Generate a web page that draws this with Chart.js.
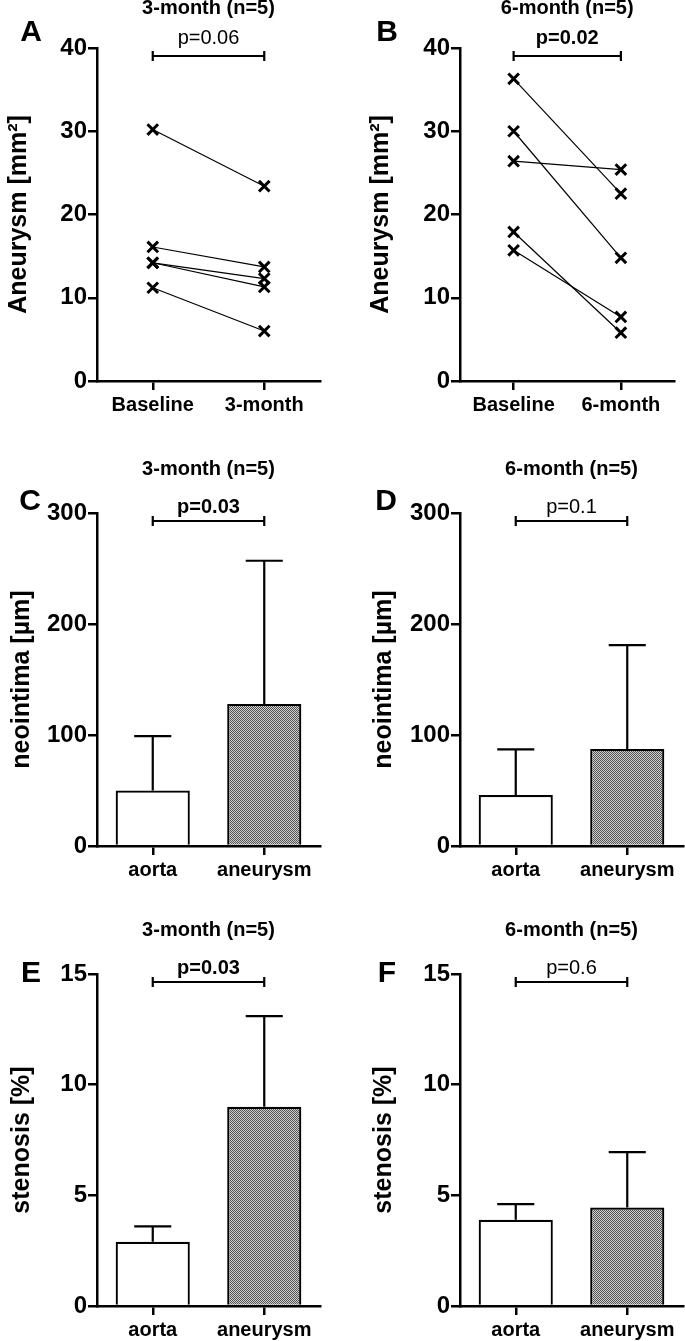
<!DOCTYPE html>
<html>
<head>
<meta charset="utf-8">
<script src="https://cdn.jsdelivr.net/npm/chart.js@4"></script>
<style>
  html, body { margin: 0; padding: 0; background: #fff; }
  body { width: 685px; height: 1341px; position: relative; overflow: hidden; }
  canvas { position: absolute; }
</style>
</head>
<body>
<canvas id="cA" width="342" height="420" style="left:0;top:0"></canvas>
<canvas id="cB" width="343" height="420" style="left:342px;top:0"></canvas>
<canvas id="cC" width="342" height="440" style="left:0;top:440px"></canvas>
<canvas id="cD" width="343" height="440" style="left:342px;top:440px"></canvas>
<canvas id="cE" width="342" height="451" style="left:0;top:890px"></canvas>
<canvas id="cF" width="343" height="451" style="left:342px;top:890px"></canvas>
<script>
// ---------------- DATA ----------------
const categoriesA = ['Baseline', '3-month'];
const categoriesB = ['Baseline', '6-month'];
const aneurysmBaselineA = [30.2, 16.1, 14.2, 14.2, 11.2];
const aneurysm3Month    = [23.4, 13.7, 12.3, 11.3, 6.0];
const aneurysmBaselineB = [36.3, 30.0, 26.4, 17.9, 15.7];
const aneurysm6Month    = [22.5, 14.8, 25.4, 5.8, 7.7];

const barCategories = ['aorta', 'aneurysm'];
const neointima3Mean = [50, 128];
const neointima3SD   = [49, 129];
const neointima6Mean = [46, 87.5];
const neointima6SD   = [41, 93.5];
const stenosis3Mean  = [2.9, 9.0];
const stenosis3SD    = [0.7, 4.1];
const stenosis6Mean  = [3.9, 4.45];
const stenosis6SD    = [0.7, 2.5];

const ticksAneurysm  = [0, 10, 20, 30, 40];
const ticksNeointima = [0, 100, 200, 300];
const ticksStenosis  = [0, 5, 10, 15];

const titles = ['3-month (n=5)', '6-month (n=5)'];
const pValues = ['p=0.06', 'p=0.02', 'p=0.03', 'p=0.1', 'p=0.03', 'p=0.6'];
const pBold   = [false, true, true, false, true, false];
const panelLetters = ['A', 'B', 'C', 'D', 'E', 'F'];

// ---------------- STYLE ----------------
const FONT = '"Liberation Sans", Arial, Helvetica, sans-serif';
Chart.defaults.color = '#000';
Chart.defaults.font.family = FONT;

function makePattern() {
  const c = document.createElement('canvas');
  c.width = 2; c.height = 2;
  const x = c.getContext('2d');
  x.fillStyle = '#d0d0d0'; x.fillRect(0, 0, 2, 2);
  x.fillStyle = '#525252'; x.fillRect(0, 0, 1, 1); x.fillRect(1, 1, 1, 1);
  return x.createPattern(c, 'repeat');
}
const greyPattern = makePattern();

const overlay = {
  id: 'overlay',
  afterDraw(chart, args, o) {
    const { ctx, chartArea, scales } = chart;
    ctx.save();
    ctx.fillStyle = '#000';
    ctx.strokeStyle = '#000';
    ctx.textAlign = 'center';
    ctx.textBaseline = 'middle';
    // title
    ctx.font = 'bold 20px ' + FONT;
    ctx.fillText(o.title, (chartArea.left + chartArea.right) / 2, o.titleY);
    // panel letter
    ctx.font = 'bold 30px ' + FONT;
    ctx.fillText(o.letter, o.letterX, o.letterY);
    // bracket
    const x1 = scales.x.getPixelForValue(0);
    const x2 = scales.x.getPixelForValue(1);
    const y = chartArea.top + 8;
    ctx.lineWidth = 2.2;
    ctx.beginPath();
    ctx.moveTo(x1, y); ctx.lineTo(x2, y);
    ctx.moveTo(x1, y - 5); ctx.lineTo(x1, y + 5);
    ctx.moveTo(x2, y - 5); ctx.lineTo(x2, y + 5);
    ctx.stroke();
    ctx.font = (o.pBold ? 'bold ' : '') + '20px ' + FONT;
    ctx.fillText(o.p, (x1 + x2) / 2, y - o.pDy);
    ctx.restore();
  },
  afterDatasetsDraw(chart, args, o) {
    if (!o.sd) return;
    const { ctx, scales } = chart;
    const meta = chart.getDatasetMeta(0);
    const means = chart.data.datasets[0].data;
    ctx.save();
    ctx.strokeStyle = '#000';
    ctx.lineWidth = 2.2;
    meta.data.forEach((bar, i) => {
      const top = scales.y.getPixelForValue(means[i] + o.sd[i]);
      const half = bar.width / 4;
      ctx.beginPath();
      ctx.moveTo(bar.x, bar.y); ctx.lineTo(bar.x, top);
      ctx.moveTo(bar.x - half, top); ctx.lineTo(bar.x + half, top);
      ctx.stroke();
    });
    ctx.restore();
  }
};

function axes(ticks, title, yWidth, xHeight, titlePad) {
  return {
    x: {
      type: 'category',
      offset: true,
      afterFit: s => { s.height = xHeight; },
      grid: { display: true, drawOnChartArea: false, drawTicks: true, tickLength: 9,
              color: '#000', lineWidth: 2.5, offset: false },
      border: { display: true, color: '#000', width: 2.5 },
      ticks: { font: { size: 20, weight: 'bold' }, padding: 3, maxRotation: 0, autoSkip: false }
    },
    y: {
      min: ticks[0], max: ticks[ticks.length - 1],
      afterFit: s => { s.width = yWidth; },
      afterBuildTicks: s => { s.ticks = ticks.map(v => ({ value: v })); },
      grid: { display: true, drawOnChartArea: false, drawTicks: true, tickLength: 9,
              color: '#000', lineWidth: 2.5 },
      border: { display: true, color: '#000', width: 2.5 },
      ticks: { font: { size: 24, weight: 'bold' }, padding: 1 },
      title: { display: true, text: title, font: { size: 25, weight: 'bold' },
               padding: { top: titlePad, bottom: 0 } }
    }
  };
}

function lineChart(id, cats, base, follow, i, layoutLeft, yWidth, rightPad, titlePad, letterX) {
  const datasets = base.map((b, k) => ({
    data: [b, follow[k]],
    borderColor: '#000', borderWidth: 1.2,
    pointStyle: 'crossRot', pointRadius: 7.5, pointBorderWidth: 3,
    pointBorderColor: '#000', pointBackgroundColor: '#000', fill: false
  }));
  new Chart(document.getElementById(id), {
    type: 'line',
    data: { labels: cats, datasets },
    options: {
      responsive: false, animation: false, events: [],
      layout: { padding: { left: layoutLeft, top: 48, right: rightPad, bottom: 0 } },
      scales: axes(ticksAneurysm, 'Aneurysm [mm²]', yWidth, 39, titlePad),
      plugins: {
        legend: { display: false }, tooltip: { enabled: false },
        overlay: { title: titles[i % 2], titleY: 8.5, letter: panelLetters[i],
                   letterX, letterY: 32.5, p: pValues[i], pBold: pBold[i], pDy: 18 }
      }
    },
    plugins: [overlay]
  });
}

function barChart(id, means, sds, ticks, ytitle, i, layoutLeft, yWidth, rightPad, top, xH, titleY, letterX, letterY, pDy) {
  new Chart(document.getElementById(id), {
    type: 'bar',
    data: {
      labels: barCategories,
      datasets: [{
        data: means,
        backgroundColor: ['#ffffff', greyPattern],
        borderColor: '#000', borderWidth: 2.2,
        barPercentage: 0.665, categoryPercentage: 1
      }]
    },
    options: {
      responsive: false, animation: false, events: [],
      layout: { padding: { left: layoutLeft, top: top, right: rightPad, bottom: 0 } },
      scales: axes(ticks, ytitle, yWidth, xH, 7.5),
      plugins: {
        legend: { display: false }, tooltip: { enabled: false },
        overlay: { title: titles[i % 2], titleY, letter: panelLetters[i],
                   letterX, letterY, p: pValues[i], pBold: pBold[i], pDy, sd: sds }
      }
    },
    plugins: [overlay]
  });
}

lineChart('cA', categoriesA, aneurysmBaselineA, aneurysm3Month, 0, 0, 97, 22, 4, 31);
lineChart('cB', categoriesB, aneurysmBaselineB, aneurysm6Month, 1, 20, 98, 2, 4, 45);
barChart('cC', neointima3Mean, neointima3SD, ticksNeointima, 'neointima [µm]', 2, 0, 97, 22, 73, 34, 29, 30, 62, 14);
barChart('cD', neointima6Mean, neointima6SD, ticksNeointima, 'neointima [µm]', 3, 20, 98, 2, 73, 34, 29, 44, 62, 14);
barChart('cE', stenosis3Mean, stenosis3SD, ticksStenosis, 'stenosis [%]', 4, 0, 97, 22, 84, 35, 40, 31, 84, 14);
barChart('cF', stenosis6Mean, stenosis6SD, ticksStenosis, 'stenosis [%]', 5, 20, 98, 2, 84, 35, 40, 45, 84, 14);
</script>
</body>
</html>
